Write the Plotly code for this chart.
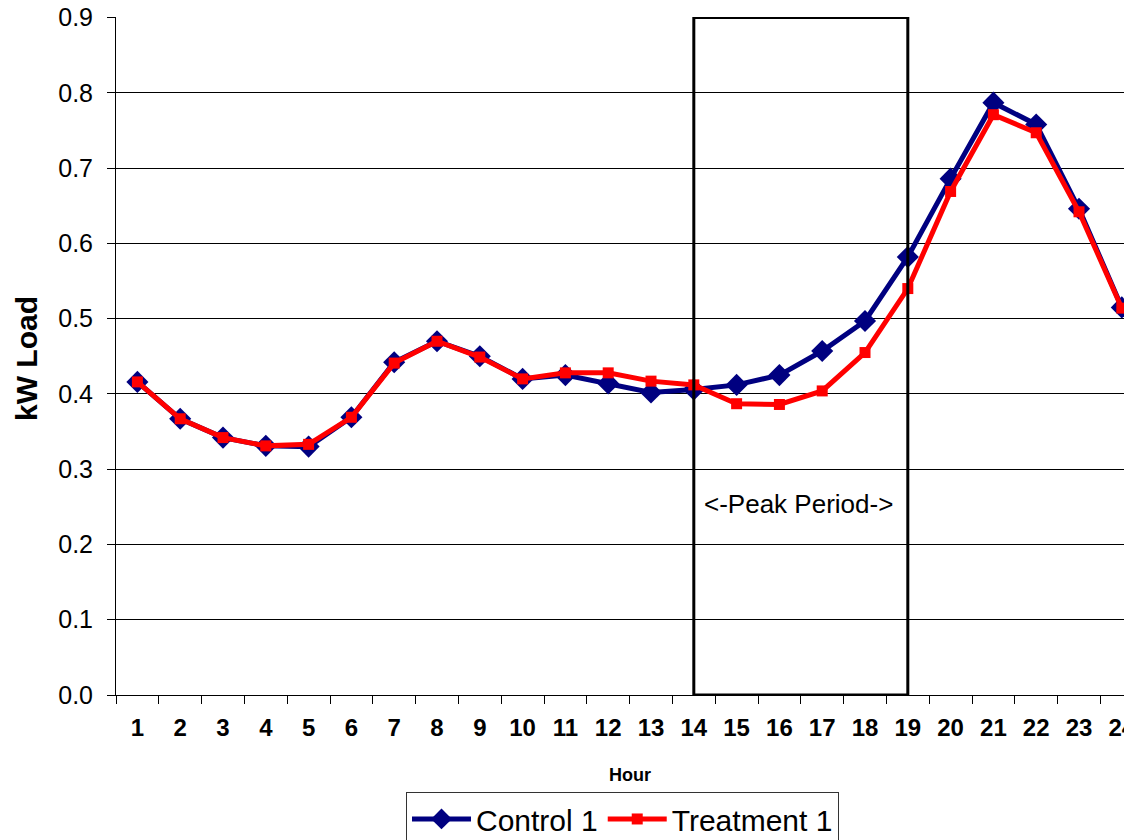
import plotly.graph_objects as go

hours = [str(h) for h in range(1, 25)]
control_1 = [0.416, 0.367, 0.342, 0.331, 0.330, 0.369, 0.442, 0.470, 0.450, 0.420,
             0.425, 0.414, 0.402, 0.406, 0.412, 0.425, 0.457, 0.497, 0.582, 0.686,
             0.787, 0.758, 0.646, 0.515]
treatment_1 = [0.416, 0.367, 0.342, 0.331, 0.333, 0.369, 0.441, 0.470, 0.449, 0.420,
               0.428, 0.428, 0.417, 0.412, 0.387, 0.386, 0.404, 0.455, 0.540, 0.669,
               0.771, 0.747, 0.642, 0.514]
y_ticks = [0.0, 0.1, 0.2, 0.3, 0.4, 0.5, 0.6, 0.7, 0.8, 0.9]
peak_start, peak_end = "14", "19"
peak_label = "<-Peak Period->"

FONT = "Arial, 'Liberation Sans', sans-serif"

fig = go.Figure()
fig.add_trace(go.Scatter(
    x=hours, y=control_1, name="Control 1", mode="lines+markers",
    line=dict(color="#000080", width=5),
    marker=dict(symbol="diamond", size=17, color="#000080"),
))
fig.add_trace(go.Scatter(
    x=hours, y=treatment_1, name="Treatment 1", mode="lines+markers",
    line=dict(color="#FF0000", width=5),
    marker=dict(symbol="square", size=11, color="#FF0000"),
))

i0 = hours.index(peak_start)
i1 = hours.index(peak_end)
fig.add_shape(type="rect", xref="x", yref="y", x0=i0, x1=i1, y0=0, y1=0.9,
              line=dict(color="black", width=3), fillcolor="rgba(0,0,0,0)", layer="above")
fig.add_annotation(x=(i0 + i1) / 2 - 0.06, y=0.254, xref="x", yref="y", text=peak_label,
                   showarrow=False, font=dict(family=FONT, size=26, color="black"))
fig.add_annotation(x=(len(hours) - 1) / 2, y=-0.1186, xref="x", yref="paper", text="<b>Hour</b>",
                   xanchor="center", yanchor="middle",
                   showarrow=False, font=dict(family=FONT, size=18, color="black"))
fig.add_annotation(x=-0.0879, y=0.497, xref="paper", yref="paper", text="<b>kW Load</b>",
                   xanchor="center", yanchor="middle", textangle=-90, showarrow=False,
                   font=dict(family=FONT, size=30, color="black"))

fig.update_layout(
    width=1132, height=840,
    margin=dict(l=108, r=0, t=9, b=153),
    paper_bgcolor="white", plot_bgcolor="white",
    font=dict(family=FONT, color="black"),
    showlegend=True,
    legend=dict(orientation="h", x=0.2832, xanchor="left", xref="paper",
                y=0.0667, yanchor="top", yref="container",
                itemwidth=59,
                bordercolor="#333333", borderwidth=1, bgcolor="white",
                font=dict(family=FONT, size=30, color="black")),
    xaxis=dict(type="category", range=[-0.5, 23.425], tickson="boundaries",
               ticks="outside", ticklen=8, tickcolor="black", tickwidth=1,
               showline=True, linecolor="black", linewidth=1, showgrid=False,
               automargin=False, ticklabelstandoff=11,
               tickfont=dict(family=FONT, size=24, color="black", weight="bold"),
               fixedrange=True),
    yaxis=dict(range=[0, 0.9008], tickvals=y_ticks, tickformat=".1f",
               ticks="outside", ticklen=8, tickcolor="black", tickwidth=1,
               showline=True, linecolor="black", linewidth=1,
               showgrid=True, gridcolor="black", gridwidth=1, zeroline=False,
               automargin=False, ticklabelstandoff=9, ticklabeloverflow="allow",
               tickfont=dict(family=FONT, size=25, color="black")),
)

fig.write_html("out.html")
